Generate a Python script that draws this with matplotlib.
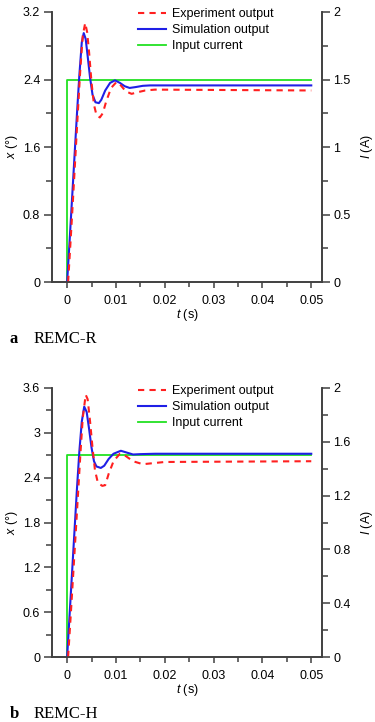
import matplotlib
matplotlib.use("Agg")
import matplotlib.pyplot as plt
from matplotlib.ticker import MultipleLocator, FuncFormatter

plt.rcParams['font.family'] = ['Liberation Sans', 'DejaVu Sans']
plt.rcParams['mathtext.fontset'] = 'custom'
plt.rcParams['mathtext.it'] = 'Liberation Sans:italic'
plt.rcParams['mathtext.rm'] = 'Liberation Sans'

# ---------------- Data: panel a (REMC-R) ----------------
t_sim_a = [0, 0.0005, 0.001, 0.0015, 0.002, 0.0025, 0.003, 0.0034, 0.0038, 0.0042,
           0.0047, 0.0052, 0.0058, 0.0065, 0.007, 0.0078, 0.0088, 0.0098, 0.0108,
           0.0118, 0.0128, 0.014, 0.0155, 0.017, 0.02, 0.05]
x_sim_a = [0, 0.48, 0.98, 1.48, 1.98, 2.45, 2.84, 2.95, 2.88, 2.68,
           2.42, 2.22, 2.13, 2.12, 2.16, 2.27, 2.36, 2.39, 2.36,
           2.32, 2.30, 2.31, 2.325, 2.33, 2.33, 2.33]
t_exp_a = [0.0002, 0.0007, 0.0012, 0.0017, 0.0022, 0.0027, 0.0032, 0.0037, 0.0041,
           0.0045, 0.005, 0.0055, 0.006, 0.0067, 0.0073, 0.008, 0.009, 0.0101, 0.011,
           0.012, 0.0132, 0.0145, 0.016, 0.018, 0.05]
x_exp_a = [0, 0.48, 0.98, 1.5, 2.02, 2.52, 2.92, 3.07, 2.96,
           2.72, 2.36, 2.1, 1.98, 1.95, 2.0, 2.14, 2.3, 2.37, 2.33,
           2.26, 2.23, 2.25, 2.27, 2.28, 2.27]
t_cur_a = [0, 0, 0.05]
i_cur_a = [0, 1.5, 1.5]

# ---------------- Data: panel b (REMC-H) ----------------
t_sim_b = [0, 0.0005, 0.001, 0.0015, 0.002, 0.0025, 0.003, 0.0035, 0.004, 0.0045,
           0.005, 0.0055, 0.006, 0.0069, 0.0076, 0.0085, 0.0095, 0.011, 0.012,
           0.0135, 0.015, 0.018, 0.05]
x_sim_b = [0, 0.56, 1.12, 1.68, 2.24, 2.75, 3.15, 3.35, 3.28, 3.05,
           2.8, 2.62, 2.55, 2.53, 2.56, 2.65, 2.72, 2.76, 2.74,
           2.71, 2.715, 2.72, 2.72]
t_exp_b = [0.0002, 0.0007, 0.0012, 0.0017, 0.0022, 0.0027, 0.0032, 0.0038, 0.0042,
           0.0047, 0.0052, 0.0057, 0.0063, 0.0072, 0.0078, 0.0085, 0.0095, 0.0108,
           0.012, 0.0135, 0.0155, 0.017, 0.02, 0.05]
x_exp_b = [0, 0.52, 1.06, 1.6, 2.15, 2.7, 3.2, 3.51, 3.45,
           3.15, 2.8, 2.5, 2.33, 2.29, 2.3, 2.45, 2.62, 2.72,
           2.69, 2.62, 2.58, 2.59, 2.61, 2.62]
t_cur_b = [0, 0, 0.05]
i_cur_b = [0, 1.5, 1.5]

labels = ['Experiment output', 'Simulation output', 'Input current']
x_ticks = [0, 0.01, 0.02, 0.03, 0.04, 0.05]
x_ticks_labels = ['0', '0.01', '0.02', '0.03', '0.04', '0.05']

W, H = 375, 722
fig = plt.figure(figsize=(W / 100, H / 100), dpi=100)

SPINE = '#404040'
FS = 9
fmt = FuncFormatter(lambda v, p: '%g' % round(v, 3))

LEFT = 52


def panel(rect, ts, xs, te, xe, tc, ic, ylim, ystep, i_step, legend_xy, caption):
    ax = fig.add_axes(rect)
    ax2 = ax.twinx()
    ax.set_zorder(ax2.get_zorder() + 1)
    ax.patch.set_visible(False)

    l2, = ax2.plot(tc, ic, color='#22e022', lw=1.3)
    l1, = ax.plot(ts, xs, color='#1f1fe6', lw=1.5)
    l0, = ax.plot(te, xe, color='#ff2020', lw=1.5, ls=(0, (3, 2.5)))

    ax.set_xlim(-0.0031, 0.0522)
    ax.set_ylim(*ylim)
    ax2.set_ylim(0, 2)
    ax.xaxis.set_minor_locator(MultipleLocator(0.005))
    ax.set_xticks(x_ticks)
    ax.set_xticklabels(x_ticks_labels)
    ax.yaxis.set_major_locator(MultipleLocator(ystep))
    ax.yaxis.set_minor_locator(MultipleLocator(ystep / 2))
    ax2.yaxis.set_major_locator(MultipleLocator(i_step))
    ax2.yaxis.set_minor_locator(MultipleLocator(i_step / 2))
    ax.yaxis.set_major_formatter(fmt)
    ax2.yaxis.set_major_formatter(fmt)

    for a in (ax, ax2):
        for s in a.spines.values():
            s.set_color(SPINE)
            s.set_linewidth(1.2)
        a.spines['top'].set_visible(False)
    ax.tick_params(axis='x', which='major', direction='out', length=4.5, width=1.1,
                   color=SPINE, labelsize=FS, pad=5)
    ax.tick_params(axis='x', which='minor', direction='out', length=3.5, width=1.1,
                   color=SPINE)
    ax.tick_params(axis='y', which='major', direction='out', length=5.5, width=1.1,
                   color=SPINE, labelsize=FS, pad=3)
    ax.tick_params(axis='y', which='minor', direction='out', length=4.3, width=1.1,
                   color=SPINE)
    ax2.tick_params(axis='y', which='major', direction='out', length=6, width=1.1,
                    color=SPINE, labelsize=FS, pad=2)
    ax2.tick_params(axis='y', which='minor', direction='out', length=4.3, width=1.1,
                    color=SPINE)

    ax.set_xlabel('$t$ (s)', fontsize=FS, labelpad=0)
    ax.set_ylabel('$x$ (°)', fontsize=FS, labelpad=2)
    ax2.set_ylabel('$I$ (A)', fontsize=FS, labelpad=6)

    fig.legend([l0, l1, l2], labels, loc='upper left',
               bbox_to_anchor=legend_xy, frameon=False, fontsize=FS,
               handlelength=2.2, handletextpad=0.5, labelspacing=0.33,
               borderpad=0, borderaxespad=0)
    fig.text(caption[0], caption[1], caption[2], fontsize=12,
             fontfamily='Liberation Serif', fontweight='bold', va='center')
    fig.text(caption[0] + 24 / W, caption[1], caption[3], fontsize=12,
             fontfamily='Liberation Serif', va='center')
    return ax, ax2


panel([LEFT / W, 1 - 282 / H, (322 - LEFT) / W, (282 - 12) / H],
      t_sim_a, x_sim_a, t_exp_a, x_exp_a, t_cur_a, i_cur_a,
      (0, 3.2), 0.8, 0.5, (138 / W, 1 - 8 / H), (10 / W, 1 - 339 / H, 'a', 'REMC-R'))

panel([LEFT / W, 1 - 657 / H, (322 - LEFT) / W, (657 - 388) / H],
      t_sim_b, x_sim_b, t_exp_b, x_exp_b, t_cur_b, i_cur_b,
      (0, 3.6), 0.6, 0.4, (138 / W, 1 - 385 / H), (10 / W, 1 - 714 / H, 'b', 'REMC-H'))

fig.savefig('out.png', dpi=100)
